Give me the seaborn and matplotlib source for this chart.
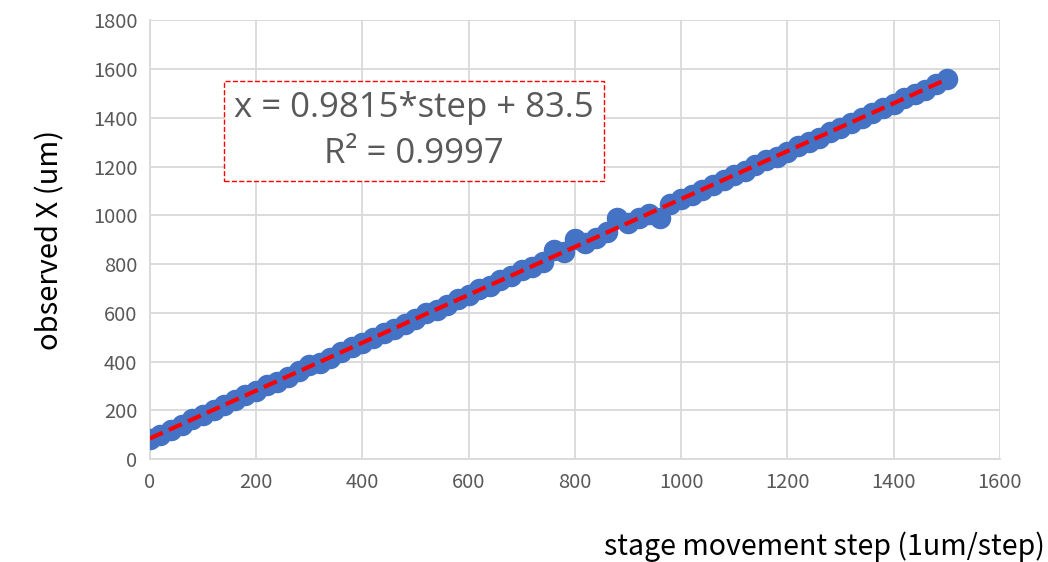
import numpy as np
import pandas as pd
import matplotlib
matplotlib.use('Agg')
import matplotlib.pyplot as plt
import seaborn as sns

# ── Data ───────────────────────────────────────────────
steps = [0, 20, 40, 60, 80, 100, 120, 140, 160, 180,
         200, 220, 240, 260, 280, 300, 320, 340, 360, 380,
         400, 420, 440, 460, 480, 500, 520, 540, 560, 580,
         600, 620, 640, 660, 680, 700, 720, 740, 760, 780,
         800, 820, 840, 860, 880, 900, 920, 940, 960, 980,
         1000, 1020, 1040, 1060, 1080, 1100, 1120, 1140, 1160, 1180,
         1200, 1220, 1240, 1260, 1280, 1300, 1320, 1340, 1360, 1380,
         1400, 1420, 1440, 1460, 1480, 1500]
observed = [82, 100, 120, 140, 165, 180, 200, 222, 242, 262,
            278, 305, 318, 336, 360, 385, 395, 415, 440, 460,
            475, 497, 518, 532, 556, 574, 598, 612, 632, 655,
            675, 698, 710, 735, 752, 775, 790, 810, 858, 850,
            903, 888, 905, 932, 988, 968, 990, 1005, 990, 1045,
            1068, 1082, 1105, 1125, 1145, 1165, 1180, 1205, 1225, 1240,
            1260, 1285, 1302, 1318, 1340, 1360, 1378, 1400, 1420, 1440,
            1455, 1480, 1498, 1515, 1538, 1558]
fit_text = 'x = 0.9815*step + 83.5\nR² = 0.9997'

df = pd.DataFrame({'step': steps, 'observed': observed})

sns.set_theme(style='white')
plt.rcParams['font.family'] = ['Noto Sans CJK SC', 'DejaVu Sans']

fig = plt.figure(figsize=(10.48, 5.62), dpi=100)
ax = fig.add_axes([0.143, 0.183, 0.811, 0.781])

sns.regplot(data=df, x='step', y='observed', ax=ax, ci=None,
            scatter_kws={'s': 240, 'color': '#4472C4', 'alpha': 1, 'linewidths': 0, 'zorder': 3},
            line_kws={'color': 'red', 'linestyle': (0, (3.4, 1.6)), 'linewidth': 3.0, 'zorder': 4})

ax.set_xlim(0, 1600)
ax.set_ylim(0, 1800)
ax.set_xticks(np.arange(0, 1601, 200))
ax.set_yticks(np.arange(0, 1801, 200))
ax.grid(True, color='#d9d9d9', linewidth=1.3)
ax.set_axisbelow(True)
for side in ['top', 'right']:
    ax.spines[side].set_visible(False)
for side in ['left', 'bottom']:
    ax.spines[side].set_color('#d9d9d9')
    ax.spines[side].set_linewidth(1.3)
ax.tick_params(length=0, labelsize=14.5, labelcolor='#595959', pad=9)
ax.set_xlabel('')
ax.set_ylabel('observed X (um)', fontsize=21, color='black', labelpad=20)

fig.text(0.997, 0.028, 'stage movement step (1um/step)', ha='right', va='center',
         fontsize=20.5, color='black')

ax.text(0.311, 0.748, fit_text, transform=ax.transAxes, ha='center', va='center',
        fontsize=25, color='#595959', linespacing=1.45,
        family=['Open Sans', 'DejaVu Sans'],
        bbox=dict(boxstyle='square,pad=0.3', fc='white', ec='red', ls='--', lw=1))

fig.savefig('out.png', dpi=100)
